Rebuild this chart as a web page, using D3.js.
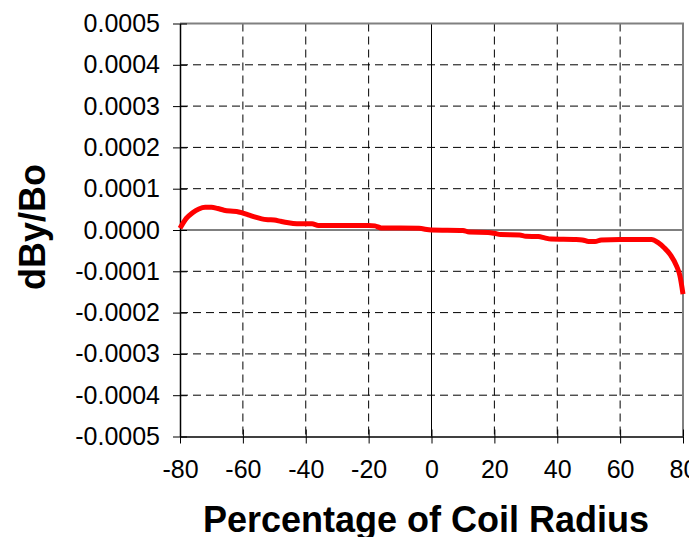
<!DOCTYPE html>
<html>
<head>
<meta charset="utf-8">
<script src="https://cdn.jsdelivr.net/npm/d3@7"></script>
<style>
  body { margin: 0; background: #fff; }
  svg { display: block; font-family: "Liberation Sans", Arial, sans-serif; }
</style>
</head>
<body>
<script>
// ---------------------- DATA ----------------------

const radiusPct = [-80, -78, -76, -74, -72, -70, -68, -66, -64, -62, -60, -58, -56, -54, -52, -50,
  -48, -46, -44, -42, -40, -38, -36, -30, -20, -18, -16, -10, -4, 0,
  10, 12, 18, 20, 22, 28, 30, 34, 36, 38, 46, 48, 50, 52, 54, 60, 70,
  72, 74, 76, 78, 79, 80];
const dByBo = [0.000004, 0.000028, 0.000042, 0.000051, 0.000055, 0.000055, 0.000052, 0.000048,
  0.000046, 0.000045, 0.000041, 0.000036, 0.000031, 0.000027, 0.000025, 0.000024,
  0.000021, 0.000018, 0.000016, 0.000015, 0.000015, 0.000015, 0.000011, 0.000011,
  0.000011, 0.000010, 0.000005, 0.000005, 0.000004, 0.000000,
  -0.000001, -0.000005, -0.000006, -0.000008, -0.000011, -0.000012, -0.000015,
  -0.000016, -0.000019, -0.000022, -0.000023, -0.000024, -0.000028, -0.000028,
  -0.000024, -0.000023, -0.000023,
  -0.000030, -0.000043, -0.000060, -0.000088, -0.000110, -0.000155];

const xTicks = [-80, -60, -40, -20, 0, 20, 40, 60, 80];
const yTicks = [0.0005, 0.0004, 0.0003, 0.0002, 0.0001, 0, -0.0001, -0.0002, -0.0003, -0.0004, -0.0005];

// ---------------------- CHART ----------------------

const width = 689, height = 537;
const plot = { left: 180, right: 683, top: 23.5, bottom: 436.5 };

const svg = d3.select("body").append("svg")
  .attr("width", width)
  .attr("height", height);

const x = d3.scaleLinear().domain([-80, 80]).range([plot.left, plot.right]);
const y = d3.scaleLinear().domain([-0.0005, 0.0005]).range([plot.bottom, plot.top]);

// dashed grid
svg.append("g")
  .selectAll("line")
  .data(xTicks.filter(d => d !== 0 && d !== -80 && d !== 80))
  .enter().append("line")
  .attr("x1", d => x(d)).attr("x2", d => x(d))
  .attr("y1", plot.top).attr("y2", plot.bottom)
  .attr("stroke", "#000").attr("stroke-dasharray", "8,5");

svg.append("g")
  .selectAll("line")
  .data(yTicks.filter(d => d !== 0 && d !== 0.0005 && d !== -0.0005))
  .enter().append("line")
  .attr("x1", plot.left).attr("x2", plot.right)
  .attr("y1", d => y(d)).attr("y2", d => y(d))
  .attr("stroke", "#000").attr("stroke-dasharray", "8,5");

// zero lines
svg.append("line")
  .attr("x1", x(0)).attr("x2", x(0))
  .attr("y1", plot.top).attr("y2", plot.bottom)
  .attr("stroke", "#000");
svg.append("line")
  .attr("x1", plot.left).attr("x2", plot.right)
  .attr("y1", y(0)).attr("y2", y(0))
  .attr("stroke", "#000");

// top / right frame in grey
svg.append("path")
  .attr("d", `M${plot.left},${plot.top}H${plot.right}V${plot.bottom}`)
  .attr("fill", "none").attr("stroke", "#808080").attr("stroke-width", 2);

// axes (ticks cross the axis line)
const yAxis = svg.append("g")
  .attr("transform", `translate(${plot.left},0)`)
  .call(d3.axisLeft(y).tickValues(yTicks).tickSize(7).tickSizeOuter(0)
    .tickFormat(d => d3.format(".4f")(d).replace("−", "-")));
yAxis.select(".domain").attr("stroke", "#000").attr("stroke-width", 1.5);
yAxis.selectAll(".tick line").clone().attr("x2", 7);
yAxis.selectAll(".tick text")
  .attr("x", -20).attr("font-size", 25).attr("fill", "#000")
  .attr("font-family", "Liberation Sans, Arial, sans-serif");

const xAxis = svg.append("g")
  .attr("transform", `translate(0,${plot.bottom})`)
  .call(d3.axisBottom(x).tickValues(xTicks).tickSize(7).tickSizeOuter(0)
    .tickFormat(d => String(d)));
xAxis.select(".domain").attr("stroke", "#000").attr("stroke-width", 1.5);
xAxis.selectAll(".tick line").clone().attr("y2", -7);
xAxis.selectAll(".tick text")
  .attr("y", 24).attr("font-size", 25).attr("fill", "#000")
  .attr("font-family", "Liberation Sans, Arial, sans-serif");

// the data curve
const line = d3.line()
  .x((d, i) => x(radiusPct[i]))
  .y(d => y(d))
  .curve(d3.curveMonotoneX);

svg.append("path")
  .datum(dByBo)
  .attr("d", line)
  .attr("fill", "none")
  .attr("stroke", "#ff0000")
  .attr("stroke-width", 5)
  .attr("stroke-linejoin", "round");

// axis titles
svg.append("text")
  .attr("x", 426).attr("y", 532)
  .attr("text-anchor", "middle")
  .attr("font-size", 36).attr("font-weight", "bold")
  .text("Percentage of Coil Radius");

svg.append("text")
  .attr("transform", "translate(45,227) rotate(-90)")
  .attr("text-anchor", "middle")
  .attr("font-size", 36).attr("font-weight", "bold")
  .text("dBy/Bo");
</script>
</body>
</html>
